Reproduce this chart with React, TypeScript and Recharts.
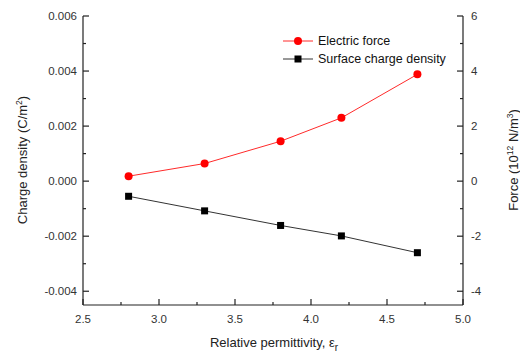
import { ComposedChart, Line, XAxis, YAxis } from 'recharts';

const permittivity = [2.8, 3.3, 3.8, 4.2, 4.7];
const electricForce = [0.18, 0.64, 1.45, 2.3, 3.88];
const chargeDensity = [-0.00055, -0.00108, -0.00161, -0.00199, -0.0026];

const xTicks = [2.5, 2.75, 3.0, 3.25, 3.5, 3.75, 4.0, 4.25, 4.5, 4.75, 5.0];
const chargeTicks = [-0.004, -0.003, -0.002, -0.001, 0, 0.001, 0.002, 0.003, 0.004, 0.005, 0.006];
const forceTicks = [-4, -3, -2, -1, 0, 1, 2, 3, 4, 5, 6];

const data = permittivity.map((eps, i) => ({
  eps,
  force: electricForce[i],
  charge: chargeDensity[i],
}));

const FONT = '"Liberation Sans", Arial, sans-serif';
const AXIS = '#222';
const MAJOR = 6;
const MINOR = 3;
const MARGIN = 8;

const BottomTick = ({ x, y, payload }: any) => {
  const v = payload.value;
  const major = Math.round(v * 4) % 2 === 0;
  const axisY = y - MARGIN;
  return (
    <g>
      <line x1={x} x2={x} y1={axisY} y2={axisY - (major ? MAJOR : MINOR)} stroke={AXIS} strokeWidth={1.2} />
      {major && (
        <text x={x} y={axisY + 18} textAnchor="middle" fontSize={11.5} fill="#333" fontFamily={FONT}>
          {v.toFixed(1)}
        </text>
      )}
    </g>
  );
};

const TopTick = ({ x, y, payload }: any) => {
  const major = Math.round(payload.value * 4) % 2 === 0;
  return <line x1={x} x2={x} y1={y} y2={y + (major ? MAJOR : MINOR)} stroke={AXIS} strokeWidth={1.2} />;
};

const LeftTick = ({ x, y, payload }: any) => {
  const v = payload.value;
  const major = Math.round(v * 1000) % 2 === 0;
  const axisX = x + MARGIN;
  return (
    <g>
      <line x1={axisX} x2={axisX + (major ? MAJOR : MINOR)} y1={y} y2={y} stroke={AXIS} strokeWidth={1.2} />
      {major && (
        <text x={axisX - 6} y={y + 4} textAnchor="end" fontSize={11.5} fill="#333" fontFamily={FONT}>
          {v.toFixed(3)}
        </text>
      )}
    </g>
  );
};

const RightTick = ({ x, y, payload }: any) => {
  const v = payload.value;
  const major = Math.round(v) % 2 === 0;
  const axisX = x - MARGIN;
  return (
    <g>
      <line x1={axisX} x2={axisX - (major ? MAJOR : MINOR)} y1={y} y2={y} stroke={AXIS} strokeWidth={1.2} />
      {major && (
        <text x={axisX + 8} y={y + 4} textAnchor="start" fontSize={11.5} fill="#333" fontFamily={FONT}>
          {v}
        </text>
      )}
    </g>
  );
};

const SquareDot = ({ cx, cy, index }: any) => (
  <rect key={`sq-${index}`} x={cx - 3.5} y={cy - 3.5} width={7} height={7} fill="#000" />
);

export default function App() {
  return (
    <div style={{ position: 'absolute', left: 0, top: 0, width: 520, height: 353, background: '#fff' }}>
      <ComposedChart width={520} height={353} data={data} margin={{ top: 16, right: 0, bottom: 0, left: 0 }}>
        <XAxis
          xAxisId="bottom"
          dataKey="eps"
          type="number"
          domain={[2.5, 5]}
          ticks={xTicks}
          interval={0}
          height={48}
          tickSize={0}
          tickMargin={MARGIN}
          tick={<BottomTick />}
          stroke={AXIS}
          strokeWidth={1.2}
        />
        <XAxis
          xAxisId="top"
          orientation="top"
          dataKey="eps"
          type="number"
          domain={[2.5, 5]}
          ticks={xTicks}
          interval={0}
          height={0}
          tickSize={0}
          tickMargin={0}
          tick={<TopTick />}
          stroke={AXIS}
          strokeWidth={1.2}
        />
        <YAxis
          yAxisId="charge"
          type="number"
          domain={[-0.0045, 0.006]}
          ticks={chargeTicks}
          interval={0}
          width={83}
          tickSize={0}
          tickMargin={MARGIN}
          tick={<LeftTick />}
          stroke={AXIS}
          strokeWidth={1.2}
          label={{
            content: () => (
              <text transform="translate(27,160) rotate(-90)" textAnchor="middle" fontSize={13} fill="#222" fontFamily={FONT}>
                Charge density (C/m
                <tspan dy={-5} fontSize={8.5}>2</tspan>
                <tspan dy={5}>)</tspan>
              </text>
            ),
          }}
        />
        <YAxis
          yAxisId="force"
          orientation="right"
          type="number"
          domain={[-4.5, 6]}
          ticks={forceTicks}
          interval={0}
          width={57}
          tickSize={0}
          tickMargin={MARGIN}
          tick={<RightTick />}
          stroke={AXIS}
          strokeWidth={1.2}
          label={{
            content: () => (
              <text transform="translate(518,160) rotate(-90)" textAnchor="middle" fontSize={13} fill="#222" fontFamily={FONT}>
                Force (10
                <tspan dy={-5} fontSize={8.5}>12</tspan>
                <tspan dy={5}> N/m</tspan>
                <tspan dy={-5} fontSize={8.5}>3</tspan>
                <tspan dy={5}>)</tspan>
              </text>
            ),
          }}
        />
        <Line
          xAxisId="bottom"
          yAxisId="force"
          type="linear"
          dataKey="force"
          stroke="#ff2a2a"
          strokeWidth={1}
          dot={{ r: 4, fill: '#ff0000', stroke: '#ff0000', strokeWidth: 0 }}
          isAnimationActive={false}
        />
        <Line
          xAxisId="bottom"
          yAxisId="charge"
          type="linear"
          dataKey="charge"
          stroke="#333"
          strokeWidth={1}
          dot={<SquareDot />}
          isAnimationActive={false}
        />
      </ComposedChart>
      <div
        style={{
          position: 'absolute',
          left: 274,
          top: 336,
          transform: 'translateX(-50%)',
          whiteSpace: 'nowrap',
          fontFamily: FONT,
          fontSize: 13,
          color: '#222',
          lineHeight: 1,
        }}
      >
        Relative permittivity, ε<sub style={{ fontSize: 10 }}>r</sub>
      </div>
      <div style={{ position: 'absolute', left: 282, top: 32, fontFamily: FONT, fontSize: 12.5, color: '#111', lineHeight: '18px' }}>
        <div style={{ display: 'flex', alignItems: 'center' }}>
          <svg width={32} height={18}>
            <line x1={1} x2={31} y1={9} y2={9} stroke="#ff2a2a" strokeWidth={1} />
            <circle cx={16} cy={9} r={4} fill="#ff0000" />
          </svg>
          <span style={{ marginLeft: 4 }}>Electric force</span>
        </div>
        <div style={{ display: 'flex', alignItems: 'center' }}>
          <svg width={32} height={18}>
            <line x1={1} x2={31} y1={9} y2={9} stroke="#333" strokeWidth={1} />
            <rect x={12.5} y={5.5} width={7} height={7} fill="#000" />
          </svg>
          <span style={{ marginLeft: 4 }}>Surface charge density</span>
        </div>
      </div>
    </div>
  );
}
